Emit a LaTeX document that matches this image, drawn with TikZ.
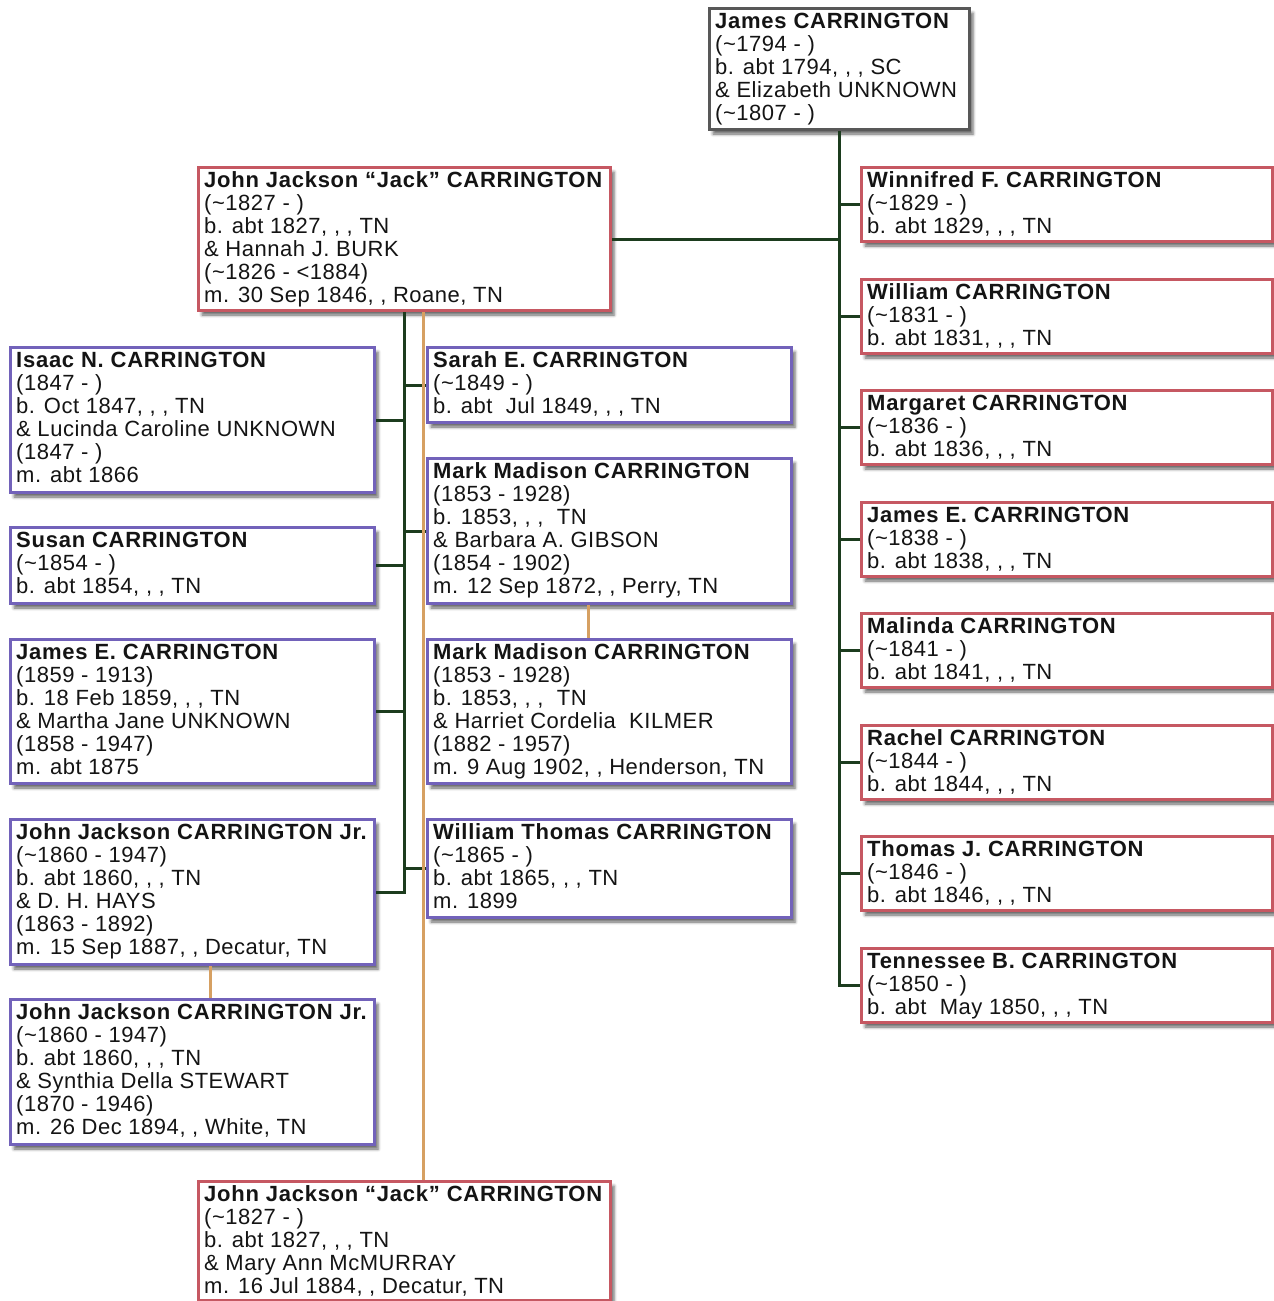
\documentclass[tikz,border=0pt]{standalone}
\usepackage{fontspec}
\setmainfont{Liberation Sans}[LetterSpace=2.4, BoldFeatures={LetterSpace=3.4}]
\usetikzlibrary{shadows.blur}

\definecolor{ink}{RGB}{20,20,20}
\definecolor{rootgray}{RGB}{88,88,88}
\definecolor{kinred}{RGB}{198,88,98}
\definecolor{kinblue}{RGB}{114,98,186}
\definecolor{trunk}{RGB}{28,60,30}
\definecolor{linkorange}{RGB}{214,160,98}

\newcommand\apx{\textasciitilde}

\tikzset{
  card/.style={draw, fill=white, line width=3pt, inner sep=0pt,
    blur shadow={shadow xshift=3.5pt, shadow yshift=-4.5pt,
      shadow blur radius=3pt, shadow opacity=60}},
  cardtext/.style={inner sep=0pt, align=left, anchor=north west, text=ink,
    font=\fontsize{22}{23}\selectfont},
  trunkline/.style={draw=trunk, line width=3pt},
  samelink/.style={draw=linkorange, line width=3pt}
}

% #1 name, #2 border colour, #3 left, #4 top, #5 width, #6 height, #7 text lines
\newcommand\famcard[7]{%
  \node[card, draw=#2, minimum width=#5pt, minimum height=#6pt, anchor=north west]
    (#1) at (#3,#4) {};
  \node[cardtext] (#1-t) at ([xshift=7pt,yshift=-5pt]#1.north west)
    {\rule{0pt}{16pt}#7};}

\begin{document}
\begin{tikzpicture}[x=1pt, y=-1pt]
\useasboundingbox (0,0) rectangle (1274,1301);

% root couple
\famcard{james}{rootgray}{708}{7}{260}{121}{%
  \textbf{James CARRINGTON}\\(\apx1794 - )\\b. abt 1794, , , SC\\\& Elizabeth UNKNOWN\\(\apx1807 - )}

% John Jackson and his siblings
\famcard{jack}{kinred}{197}{166}{412}{143}{%
  \textbf{John Jackson “Jack” CARRINGTON}\\(\apx1827 - )\\b. abt 1827, , , TN\\\& Hannah J. BURK\\(\apx1826 - <1884)\\m. 30 Sep 1846, , Roane, TN}
\famcard{winnifred}{kinred}{860}{166}{411}{74}{%
  \textbf{Winnifred F. CARRINGTON}\\(\apx1829 - )\\b. abt 1829, , , TN}
\famcard{william}{kinred}{860}{278}{411}{74}{%
  \textbf{William CARRINGTON}\\(\apx1831 - )\\b. abt 1831, , , TN}
\famcard{margaret}{kinred}{860}{389}{411}{74}{%
  \textbf{Margaret CARRINGTON}\\(\apx1836 - )\\b. abt 1836, , , TN}
\famcard{jamese}{kinred}{860}{501}{411}{74}{%
  \textbf{James E. CARRINGTON}\\(\apx1838 - )\\b. abt 1838, , , TN}
\famcard{malinda}{kinred}{860}{612}{411}{74}{%
  \textbf{Malinda CARRINGTON}\\(\apx1841 - )\\b. abt 1841, , , TN}
\famcard{rachel}{kinred}{860}{724}{411}{74}{%
  \textbf{Rachel CARRINGTON}\\(\apx1844 - )\\b. abt 1844, , , TN}
\famcard{thomas}{kinred}{860}{835}{411}{74}{%
  \textbf{Thomas J. CARRINGTON}\\(\apx1846 - )\\b. abt 1846, , , TN}
\famcard{tennessee}{kinred}{860}{947}{411}{74}{%
  \textbf{Tennessee B. CARRINGTON}\\(\apx1850 - )\\b. abt~~May 1850, , , TN}

% children of John Jackson, left column
\famcard{isaac}{kinblue}{9}{346}{364}{145}{%
  \textbf{Isaac N. CARRINGTON}\\(1847 - )\\b. Oct 1847, , , TN\\\& Lucinda Caroline UNKNOWN\\(1847 - )\\m. abt 1866}
\famcard{susan}{kinblue}{9}{526}{364}{76}{%
  \textbf{Susan CARRINGTON}\\(\apx1854 - )\\b. abt 1854, , , TN}
\famcard{jameset}{kinblue}{9}{638}{364}{144}{%
  \textbf{James E. CARRINGTON}\\(1859 - 1913)\\b. 18 Feb 1859, , , TN\\\& Martha Jane UNKNOWN\\(1858 - 1947)\\m. abt 1875}
\famcard{johnjr}{kinblue}{9}{818}{364}{145}{%
  \textbf{John Jackson CARRINGTON Jr.}\\(\apx1860 - 1947)\\b. abt 1860, , , TN\\\& D. H. HAYS\\(1863 - 1892)\\m. 15 Sep 1887, , Decatur, TN}
\famcard{johnjrb}{kinblue}{9}{998}{364}{145}{%
  \textbf{John Jackson CARRINGTON Jr.}\\(\apx1860 - 1947)\\b. abt 1860, , , TN\\\& Synthia Della STEWART\\(1870 - 1946)\\m. 26 Dec 1894, , White, TN}

% children of John Jackson, middle column
\famcard{sarah}{kinblue}{426}{346}{364}{75}{%
  \textbf{Sarah E. CARRINGTON}\\(\apx1849 - )\\b. abt~~Jul 1849, , , TN}
\famcard{mark}{kinblue}{426}{457}{364}{145}{%
  \textbf{Mark Madison CARRINGTON}\\(1853 - 1928)\\b. 1853, , ,~~TN\\\& Barbara A. GIBSON\\(1854 - 1902)\\m. 12 Sep 1872, , Perry, TN}
\famcard{markb}{kinblue}{426}{638}{364}{144}{%
  \textbf{Mark Madison CARRINGTON}\\(1853 - 1928)\\b. 1853, , ,~~TN\\\& Harriet Cordelia~~KILMER\\(1882 - 1957)\\m. 9 Aug 1902, , Henderson, TN}
\famcard{wthomas}{kinblue}{426}{818}{364}{98}{%
  \textbf{William Thomas CARRINGTON}\\(\apx1865 - )\\b. abt 1865, , , TN\\m. 1899}

% John Jackson's second marriage
\famcard{jackb}{kinred}{197}{1180}{412}{119}{%
  \textbf{John Jackson “Jack” CARRINGTON}\\(\apx1827 - )\\b. abt 1827, , , TN\\\& Mary Ann McMURRAY\\m. 16 Jul 1884, , Decatur, TN}

% descent lines from the root couple
\draw[trunkline] (james.south) |- (tennessee.west);
\foreach \c in {winnifred,william,margaret,jamese,malinda,rachel,thomas}
  \draw[trunkline] (\c.west) -- (\c.west -| james.south);
\draw[trunkline] (jack.east) -- (jack.east -| james.south);

% descent lines from John Jackson and Hannah
\draw[trunkline] (jack.south) |- (johnjr.east);
\foreach \c in {isaac,susan,jameset}
  \draw[trunkline] (\c.east) -- (\c.east -| jack.south);
\foreach \c in {sarah,mark,wthomas}
  \draw[trunkline] (\c.west) -- (\c.west -| jack.south);

% links between entries of the same person
\draw[samelink] ([xshift=19pt]jack.south) -- ([xshift=19pt]jackb.north);
\draw[samelink] ([xshift=-21pt]mark.south) -- ([xshift=-21pt]markb.north);
\draw[samelink] ([xshift=18pt]johnjr.south) -- ([xshift=18pt]johnjrb.north);
\end{tikzpicture}
\end{document}
